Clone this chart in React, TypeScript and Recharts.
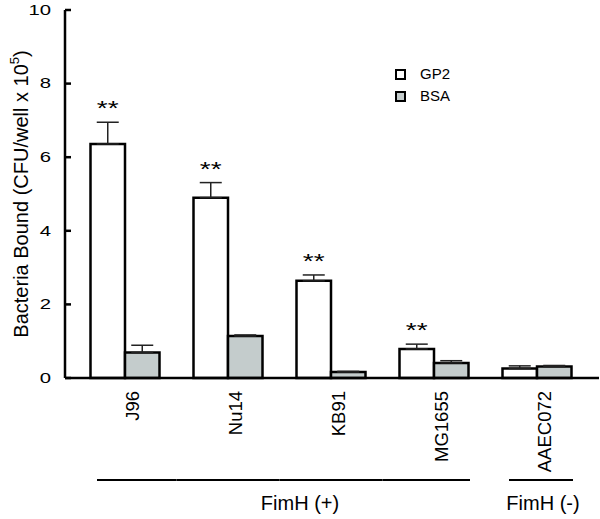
import React from "react";
import { BarChart, Bar, XAxis, YAxis, ErrorBar, LabelList, Legend } from "recharts";

const strains = ["J96", "Nu14", "KB91", "MG1655", "AAEC072"];
const gp2Values = [6.36, 4.9, 2.64, 0.79, 0.26];
const gp2Errors = [0.59, 0.41, 0.16, 0.13, 0.07];
const bsaValues = [0.69, 1.14, 0.16, 0.41, 0.31];
const bsaErrors = [0.2, 0.03, 0.02, 0.06, 0.03];
const significance = ["**", "**", "**", "**", ""];
const fimhGroups = ["FimH (+)", "FimH (+)", "FimH (+)", "FimH (+)", "FimH (-)"];
const yTicks = [0, 2, 4, 6, 8, 10];

const BSA_FILL = "#c4cccc";
const FONT = "'Liberation Sans', Arial, Helvetica, sans-serif";

const data = strains.map((strain, i) => ({
  strain,
  gp2: gp2Values[i],
  gp2Err: [0, gp2Errors[i]],
  bsa: bsaValues[i],
  bsaErr: [0, bsaErrors[i]],
  sig: significance[i],
}));

const YTick = (props: any) => {
  const { x, y, payload } = props;
  return (
    <g>
      <line x1={x} x2={x + 6} y1={y} y2={y} stroke="#000" strokeWidth={2.5} />
      <text
        transform={`translate(${x - 14},${y}) scale(1.45,1)`}
        textAnchor="end"
        dominantBaseline="central"
        fontSize={14}
        fill="#000"
      >
        {payload.value}
      </text>
    </g>
  );
};

const XTick = (props: any) => {
  const { x, y, payload, index } = props;
  const group = fimhGroups[index];
  const first = index === 0 || fimhGroups[index - 1] !== group;
  const last = index === fimhGroups.length - 1 || fimhGroups[index + 1] !== group;
  const x1 = first ? x - 28 : x - 51.5;
  const x2 = last ? x + 36 : x + 51.5;
  return (
    <g>
      <text
        transform={`translate(${x + 13.5},${y + 13}) rotate(-90)`}
        textAnchor="end"
        fontSize={18.5}
        fill="#000"
      >
        {payload.value}
      </text>
      <line x1={x1} x2={x2} y1={y + 102} y2={y + 102} stroke="#000" strokeWidth={2} />
      {index === 2 && (
        <text x={x - 31} y={y + 132} textAnchor="middle" fontSize={20} fill="#000">
          {group}
        </text>
      )}
      {index === 4 && (
        <text x={x + 6} y={y + 132} textAnchor="middle" fontSize={20} fill="#000">
          {group}
        </text>
      )}
    </g>
  );
};

const SigLabel = (props: any) => {
  const { x, y, width, height, value, index } = props;
  if (!value) return null;
  const pxPerUnit = height / gp2Values[index];
  const errPx = gp2Errors[index] * pxPerUnit;
  return (
    <text
      transform={`translate(${x + width / 2},${y - errPx - 7}) scale(1.4,1)`}
      textAnchor="middle"
      fontSize={20}
      fill="#000"
    >
      {value}
    </text>
  );
};

const LegendBox = () => (
  <div style={{ fontFamily: FONT, fontSize: 15, lineHeight: "22px", color: "#000" }}>
    {[
      { name: "GP2", fill: "#fff" },
      { name: "BSA", fill: BSA_FILL },
    ].map((item) => (
      <div key={item.name} style={{ display: "flex", alignItems: "center", height: 22 }}>
        <span
          style={{
            display: "inline-block",
            width: 11,
            height: 11,
            boxSizing: "border-box",
            border: "2px solid #000",
            background: item.fill,
            marginRight: 14,
          }}
        />
        <span>{item.name}</span>
      </div>
    ))}
  </div>
);

const YLabel = () => (
  <text
    transform="translate(21,194) rotate(-90)"
    textAnchor="middle"
    dominantBaseline="central"
    fontSize={20}
    fill="#000"
  >
    Bacteria Bound (CFU/well x 10
    <tspan dy={-7} fontSize={13}>5</tspan>
    <tspan dy={7}>)</tspan>
  </text>
);

export default function App() {
  return (
    <div style={{ position: "absolute", left: 0, top: 0, fontFamily: FONT, background: "#fff" }}>
      <BarChart
        width={600}
        height={519}
        data={data}
        margin={{ top: 10, right: 1, left: 0, bottom: 0 }}
        barSize={34.5}
        barGap={0}
      >
        <XAxis
          dataKey="strain"
          height={141}
          interval={0}
          padding={{ left: 8.5, right: 10.5 }}
          axisLine={{ stroke: "#000", strokeWidth: 2.5 }}
          tickLine={false}
          tickSize={0}
          tickMargin={0}
          tick={<XTick />}
        />
        <YAxis
          width={65}
          domain={[0, 10]}
          ticks={yTicks}
          interval={0}
          axisLine={{ stroke: "#000", strokeWidth: 2.5 }}
          tickLine={false}
          tickSize={0}
          tickMargin={0}
          tick={<YTick />}
          label={<YLabel />}
        />
        <Legend
          layout="horizontal"
          verticalAlign="middle"
          align="center"
          wrapperStyle={{ left: 395, top: 63, width: 120 }}
          content={<LegendBox />}
        />
        <Bar dataKey="gp2" name="GP2" fill="#fff" stroke="#000" strokeWidth={2.5} isAnimationActive={false}>
          <ErrorBar dataKey="gp2Err" direction="y" width={11} stroke="#222" strokeWidth={1.5} />
          <LabelList dataKey="sig" content={<SigLabel />} />
        </Bar>
        <Bar dataKey="bsa" name="BSA" fill={BSA_FILL} stroke="#000" strokeWidth={2.5} isAnimationActive={false}>
          <ErrorBar dataKey="bsaErr" direction="y" width={11} stroke="#222" strokeWidth={1.5} />
        </Bar>
      </BarChart>
    </div>
  );
}
